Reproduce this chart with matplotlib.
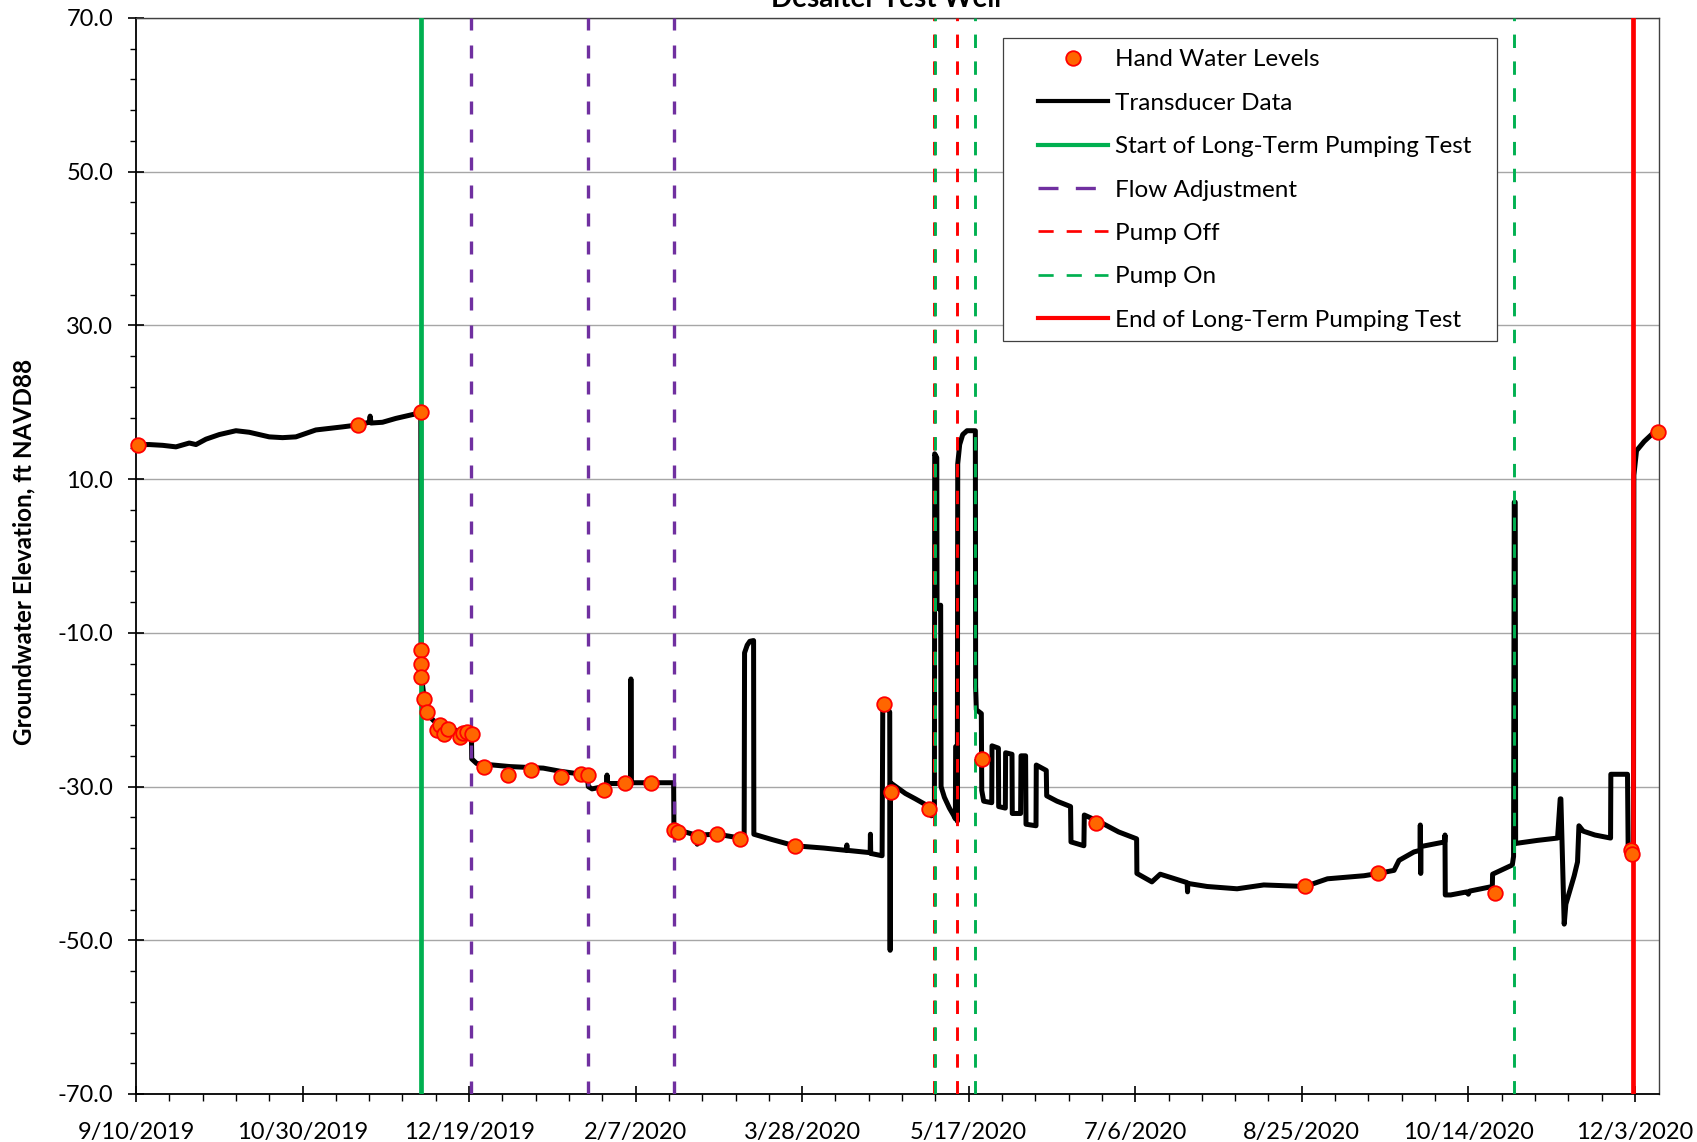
import matplotlib
matplotlib.use("Agg")
import matplotlib.pyplot as plt  # noqa: E402
import numpy as np  # noqa: E402
import pandas as pd  # noqa: E402
from matplotlib.lines import Line2D  # noqa: E402
from matplotlib.patches import Rectangle  # noqa: E402
from matplotlib.ticker import FixedLocator, FuncFormatter  # noqa: E402

plt.rcParams["font.family"] = ["Lato", "DejaVu Sans"]

# transducer record, ft NAVD88
transducer_time = [
    "2019-09-10 12:00", "2019-09-14", "2019-09-18", "2019-09-22", "2019-09-26",
    "2019-09-28", "2019-10-01", "2019-10-05", "2019-10-10", "2019-10-14",
    "2019-10-20", "2019-10-24", "2019-10-28", "2019-11-03", "2019-11-07",
    "2019-11-11", "2019-11-15 14:00", "2019-11-19 00:00", "2019-11-19 07:00",
    "2019-11-19 14:00", "2019-11-23", "2019-11-27", "2019-12-01",
    "2019-12-04 00:00", "2019-12-04 12:00", "2019-12-04 14:00", "2019-12-04 19:00",
    "2019-12-05 07:00", "2019-12-06 19:00", "2019-12-08 07:00", "2019-12-11 07:00",
    "2019-12-15 07:00", "2019-12-19 07:00", "2019-12-19 17:00", "2019-12-19 19:00",
    "2019-12-21 07:00", "2019-12-26 07:00", "2019-12-31 07:00", "2020-01-10 07:00",
    "2020-01-15 07:00", "2020-01-20 07:00", "2020-01-23 12:00", "2020-01-23 19:00",
    "2020-01-24 22:00", "2020-01-28 10:00", "2020-01-29 07:00", "2020-01-29 10:00",
    "2020-01-29 12:00", "2020-02-01 10:00", "2020-02-05 12:00", "2020-02-05 14:00",
    "2020-02-05 17:00", "2020-02-09 14:00", "2020-02-18 10:00", "2020-02-18 12:00",
    "2020-02-21", "2020-02-25 00:00", "2020-02-25 12:00", "2020-02-26 00:00",
    "2020-03-02 14:00", "2020-03-09 10:00", "2020-03-10 14:00", "2020-03-10 17:00",
    "2020-03-11 12:00", "2020-03-12 07:00", "2020-03-13 10:00", "2020-03-13 12:00",
    "2020-03-19", "2020-03-25 17:00", "2020-04-03 12:00", "2020-04-10 05:00",
    "2020-04-10 10:00", "2020-04-10 14:00", "2020-04-17 10:00", "2020-04-17 12:00",
    "2020-04-17 14:00", "2020-04-21 00:00", "2020-04-21 05:00", "2020-04-22 12:00",
    "2020-04-23 07:00", "2020-04-23 10:00", "2020-04-23 12:00", "2020-04-28",
    "2020-05-01", "2020-05-05 02:00", "2020-05-05 19:00", "2020-05-06 17:00",
    "2020-05-06 19:00", "2020-05-07 10:00", "2020-05-07 12:00", "2020-05-08 05:00",
    "2020-05-08 14:00", "2020-05-08 17:00", "2020-05-09 17:00", "2020-05-11 05:00",
    "2020-05-12 10:00", "2020-05-13 00:00", "2020-05-13 02:00", "2020-05-13 12:00",
    "2020-05-13 14:00", "2020-05-13 17:00", "2020-05-14 07:00", "2020-05-15 05:00",
    "2020-05-16 12:00", "2020-05-19 00:00", "2020-05-19 02:00", "2020-05-19 07:00",
    "2020-05-20 19:00", "2020-05-20 22:00", "2020-05-21 12:00", "2020-05-23 22:00",
    "2020-05-24 00:00", "2020-05-25 22:00", "2020-05-26 00:00", "2020-05-28 00:00",
    "2020-05-28 02:00", "2020-05-30 00:00", "2020-05-30 02:00", "2020-06-01 14:00",
    "2020-06-01 17:00", "2020-06-03 02:00", "2020-06-03 05:00", "2020-06-06 05:00",
    "2020-06-06 07:00", "2020-06-09 07:00", "2020-06-09 10:00", "2020-06-12 12:00",
    "2020-06-16 14:00", "2020-06-16 17:00", "2020-06-20 14:00", "2020-06-20 17:00",
    "2020-06-25 19:00", "2020-07-01", "2020-07-06 10:00", "2020-07-06 12:00",
    "2020-07-11", "2020-07-13 12:00", "2020-07-21 14:00", "2020-07-21 17:00",
    "2020-07-21 19:00", "2020-07-27 14:00", "2020-08-05 14:00", "2020-08-13 14:00",
    "2020-08-26", "2020-09-01 17:00", "2020-09-12 17:00", "2020-09-17",
    "2020-09-21 17:00", "2020-09-23 05:00", "2020-09-27 17:00", "2020-09-29 12:00",
    "2020-09-29 14:00", "2020-09-29 17:00", "2020-09-29 19:00", "2020-10-06 22:00",
    "2020-10-07 00:00", "2020-10-07 02:00", "2020-10-08 17:00", "2020-10-13 14:00",
    "2020-10-14 00:00", "2020-10-14 10:00", "2020-10-21 05:00", "2020-10-21 07:00",
    "2020-10-27 05:00", "2020-10-27 14:00", "2020-10-27 19:00", "2020-10-28 02:00",
    "2020-10-28 05:00", "2020-11-03 19:00", "2020-11-09 19:00", "2020-11-10 14:00",
    "2020-11-10 19:00", "2020-11-11 19:00", "2020-11-12 07:00", "2020-11-14 19:00",
    "2020-11-15 19:00", "2020-11-16 05:00", "2020-11-17 12:00", "2020-11-21",
    "2020-11-25 17:00", "2020-11-25 19:00", "2020-11-30 19:00", "2020-12-01 00:00",
    "2020-12-02 14:00", "2020-12-02 17:00", "2020-12-03 12:00", "2020-12-05 19:00",
    "2020-12-08 12:00", "2020-12-09 22:00",
]
transducer_elev = [
    14.5, 14.5, 14.4, 14.2, 14.7,
    14.5, 15.2, 15.8, 16.3, 16.1,
    15.5, 15.4, 15.5, 16.4, 16.6,
    16.8, 17.05, 17.4, 18.2,
    17.3, 17.4, 17.9, 18.3,
    18.6, 18.7, -14.0, -16.0,
    -17.7, -20.7, -21.4, -22.3,
    -22.7, -23.1, -23.2, -26.4,
    -27.0, -27.2, -27.4, -27.6,
    -28.0, -28.3, -28.5, -30.0,
    -30.3, -30.0, -30.0, -28.5,
    -29.6, -29.6, -29.5, -16.0,
    -29.5, -29.5, -29.5, -35.5,
    -35.8, -36.3, -37.5, -36.3,
    -36.2, -36.7, -36.7, -12.6,
    -11.6, -11.1, -11.0, -36.2,
    -36.9, -37.7, -38.0, -38.3,
    -37.6, -38.3, -38.6, -36.2,
    -38.7, -39.0, -19.3, -19.8,
    -20.3, -51.3, -29.5, -30.9,
    -31.6, -32.6, -33.8, -33.5,
    13.3, 12.8, -6.8, -6.9,
    -6.4, -30.0, -31.4, -32.8,
    -33.7, -34.2, -24.8, -24.8,
    -34.5, 12.0, 14.5, 15.8,
    16.3, 16.3, -17.0, -20.0,
    -20.5, -30.5, -31.9, -32.1,
    -24.7, -25.0, -32.6, -32.8,
    -25.6, -25.8, -33.5, -33.5,
    -26.0, -26.0, -34.9, -35.1,
    -27.2, -27.9, -31.2, -31.9,
    -32.6, -37.2, -37.7, -33.7,
    -34.7, -35.9, -36.8, -41.3,
    -42.4, -41.4, -42.5, -43.7,
    -42.6, -43.0, -43.3, -42.8,
    -43.0, -42.0, -41.6, -41.3,
    -40.9, -39.6, -38.5, -38.3,
    -35.0, -41.3, -37.8, -37.2,
    -36.3, -44.1, -44.1, -43.7,
    -44.0, -43.6, -43.0, -41.4,
    -40.2, -39.1, 7.0, 7.0,
    -37.4, -37.0, -36.7, -31.6,
    -31.6, -47.9, -45.3, -41.6,
    -39.8, -35.1, -35.8, -36.3,
    -36.7, -28.4, -28.4, -38.4,
    -38.6, 10.5, 13.7, 14.9,
    16.0, 16.1,
]

# manual soundings
hand_time = [
    "2019-09-10 12:00", "2019-11-15 14:00", "2019-12-04 14:00", "2019-12-04 15:00",
    "2019-12-04 16:00", "2019-12-04 17:00", "2019-12-05 12:00", "2019-12-06 12:00",
    "2019-12-09 07:00", "2019-12-10 07:00", "2019-12-11 12:00", "2019-12-12 19:00",
    "2019-12-16 07:00", "2019-12-17 07:00", "2019-12-18 07:00", "2019-12-19 19:00",
    "2019-12-23 12:00", "2019-12-30 14:00", "2020-01-06 14:00", "2020-01-15 14:00",
    "2020-01-21 14:00", "2020-01-23 17:00", "2020-01-28 14:00", "2020-02-03 19:00",
    "2020-02-11 14:00", "2020-02-18 10:00", "2020-02-19 17:00", "2020-02-25 14:00",
    "2020-03-02 14:00", "2020-03-09 10:00", "2020-03-25 17:00", "2020-04-21 12:00",
    "2020-04-23 14:00", "2020-05-05 02:00", "2020-05-20 22:00", "2020-06-24 07:00",
    "2020-08-26", "2020-09-17", "2020-10-21 22:00", "2020-12-01 17:00",
    "2020-12-02 00:00", "2020-12-09 22:00",
]
hand_elev = [
    14.5, 17.1, 18.7, -12.2,
    -14.0, -15.7, -18.6, -20.3,
    -22.7, -22.0, -23.1, -22.5,
    -23.5, -23.0, -22.9, -23.1,
    -27.5, -28.5, -27.9, -28.8,
    -28.4, -28.5, -30.5, -29.5,
    -29.5, -35.7, -35.9, -36.5,
    -36.2, -36.8, -37.7, -19.3,
    -30.7, -32.9, -26.4, -34.7,
    -43.0, -41.3, -43.8, -38.3,
    -38.8, 16.1,
]

# pumping test events
test_start = "2019-12-04 14:00"
flow_adjust = ["2019-12-19 17:00", "2020-01-23 17:00", "2020-02-18 12:00"]
pump_off = ["2020-05-06 12:00", "2020-05-13 14:00"]
pump_on = ["2020-05-06 22:00", "2020-05-19 00:00", "2020-10-27 19:00"]
test_end = "2020-12-02 14:00"

x_start = pd.Timestamp("2019-09-10")
x_end = pd.Timestamp("2020-12-10 06:00")

GREEN = "#00B050"
PURPLE = "#7030A0"
RED = "#FF0000"
ORANGE = "#FF6600"

fig = plt.figure(figsize=(16.97, 11.42), dpi=100)
ax = fig.add_axes([136 / 1697, 1 - 1094 / 1142, 1523 / 1697, 1076 / 1142])

ax.plot(pd.to_datetime(transducer_time, format="mixed"), transducer_elev,
        color="black", lw=3.6, solid_joinstyle="round", zorder=2)

ax.axvline(pd.Timestamp(test_start), color=GREEN, lw=3.4, zorder=3)
for t in flow_adjust:
    ax.axvline(pd.Timestamp(t), color=PURPLE, lw=2.4, dashes=(3.9, 4.5), zorder=3)
for t in pump_off:
    ax.axvline(pd.Timestamp(t), color=RED, lw=2.1, dashes=(4.6, 4.6), zorder=3)
for t in pump_on:
    ax.axvline(pd.Timestamp(t), color=GREEN, lw=2.1, dashes=(4.6, 4.6), zorder=3)
ax.axvline(pd.Timestamp(test_end), color=RED, lw=3.4, zorder=3)

ax.plot(pd.to_datetime(hand_time, format="mixed"), hand_elev, ls="none", marker="o",
        ms=10.5, mfc=ORANGE, mec=RED, mew=1.3, zorder=4, clip_on=False)

ax.set_xlim(x_start, x_end)
ax.set_ylim(-70, 70)

major_dates = pd.date_range(x_start, periods=10, freq="50D")
minor_dates = pd.date_range(x_start, x_end, freq="10D")
ax.xaxis.set_major_locator(FixedLocator(matplotlib.dates.date2num(major_dates)))
ax.xaxis.set_minor_locator(FixedLocator(matplotlib.dates.date2num(minor_dates)))
ax.xaxis.set_major_formatter(FuncFormatter(
    lambda v, _: (lambda d: f"{d.month}/{d.day}/{d.year}")(matplotlib.dates.num2date(v))))
ax.yaxis.set_major_locator(FixedLocator(np.arange(-70, 71, 20)))
ax.yaxis.set_minor_locator(FixedLocator(np.arange(-70, 71, 4)))
ax.yaxis.set_major_formatter(FuncFormatter(lambda v, _: f"{v:.1f}"))

ax.tick_params(axis="x", which="major", direction="inout", length=12, width=1.2,
               pad=14.5, labelsize=17)
ax.tick_params(axis="x", which="minor", direction="out", length=5, width=1.0)
ax.tick_params(axis="y", which="major", direction="inout", length=11, width=1.2,
               pad=11, labelsize=17)
ax.tick_params(axis="y", which="minor", direction="out", length=4.3, width=1.0)

ax.grid(axis="y", which="major", color="#A6A6A6", lw=1.0)
ax.set_axisbelow(True)
for side in ("left", "bottom"):
    ax.spines[side].set_linewidth(1.3)
    ax.spines[side].set_color("black")
for side in ("top", "right"):
    ax.spines[side].set_linewidth(1.0)
    ax.spines[side].set_color("#404040")

fig.text(886.5 / 1697, 1 - 7 / 1142, "Desalter Test Well", ha="center",
         va="baseline", fontsize=20, fontweight="bold")
fig.text(24 / 1697, 1 - 552 / 1142, "Groundwater Elevation, ft NAVD88",
         rotation=90, ha="center", va="center", fontsize=17.5, fontweight="bold")

# legend box drawn on the figure so it hides the gridlines under it
fig.add_artist(Rectangle((1002.7 / 1697, 1 - 341 / 1142), 494.6 / 1697, 302.7 / 1142,
                         transform=fig.transFigure, facecolor="white",
                         edgecolor="#404040", lw=0.9, zorder=4))
handles = [
    Line2D([], [], ls="none", marker="o", ms=10.5, mfc=ORANGE, mec=RED, mew=1.3),
    Line2D([], [], color="black", lw=3),
    Line2D([], [], color=GREEN, lw=3),
    Line2D([], [], color=PURPLE, lw=2.4, dashes=(6, 5.2)),
    Line2D([], [], color=RED, lw=1.95, dashes=(5.6, 4.8)),
    Line2D([], [], color=GREEN, lw=1.95, dashes=(5.6, 4.8)),
    Line2D([], [], color=RED, lw=3),
]
labels = ["Hand Water Levels", "Transducer Data", "Start of Long-Term Pumping Test",
          "Flow Adjustment", "Pump Off", "Pump On", "End of Long-Term Pumping Test"]
leg = fig.legend(handles, labels, loc="center left",
                 bbox_to_anchor=(1038 / 1697, 1 - 190 / 1142), frameon=False,
                 fontsize=17.5, handlelength=2.9, handletextpad=0.25,
                 borderpad=0, borderaxespad=0, labelspacing=0.92, numpoints=1)
leg.set_zorder(5)

fig.savefig("out.png", dpi=100)
